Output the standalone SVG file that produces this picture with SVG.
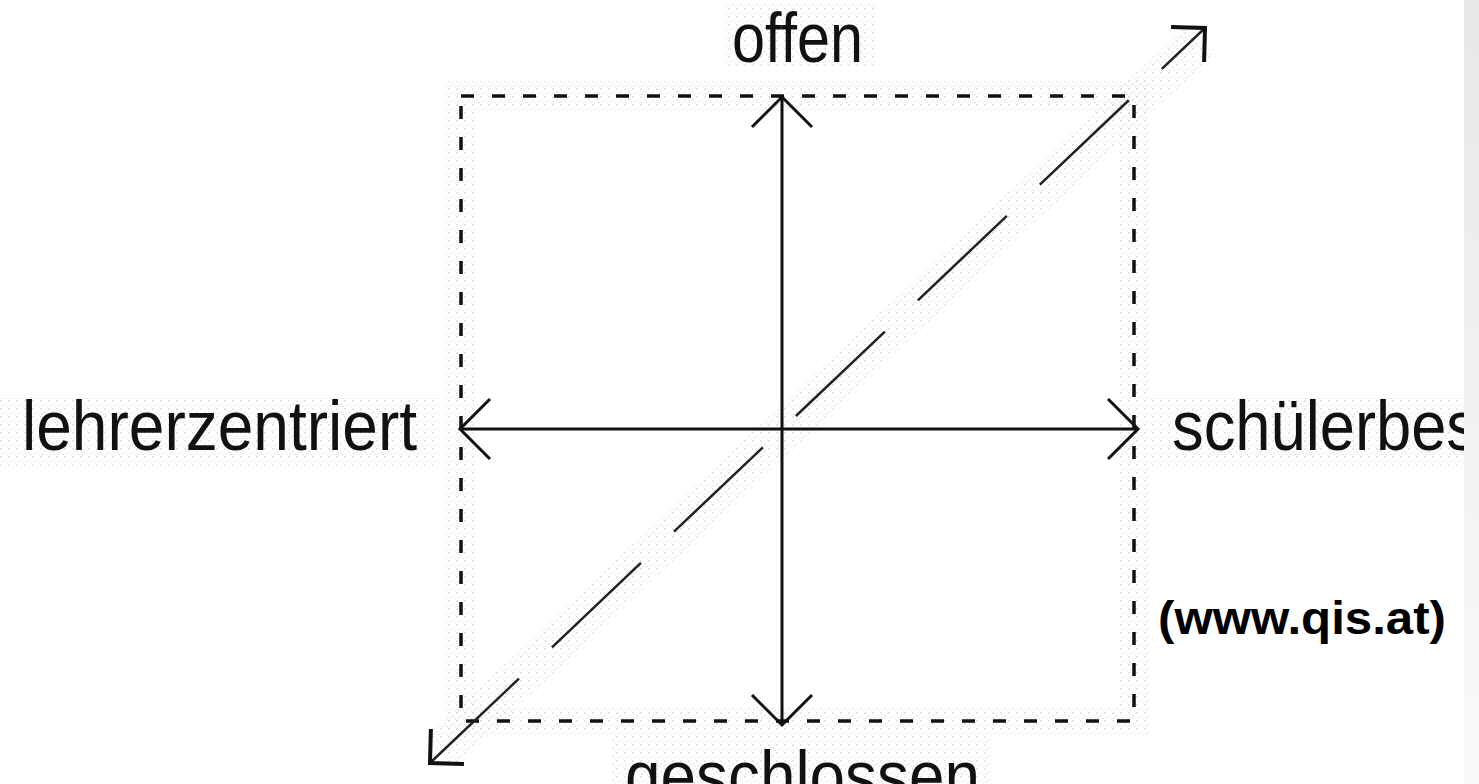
<svg xmlns="http://www.w3.org/2000/svg" width="1479" height="784" viewBox="0 0 1479 784">
  <defs>
    <pattern id="speck" width="8" height="8" patternUnits="userSpaceOnUse">
      <rect x="0" y="0" width="2" height="2" fill="#d9d9d9"/>
      <rect x="4" y="3" width="2" height="2" fill="#e2e2e2"/>
      <rect x="1" y="5" width="2" height="2" fill="#e6e6e6"/>
      <rect x="6" y="6" width="2" height="1" fill="#dcdcdc"/>
    </pattern>
    <linearGradient id="bar" x1="0" y1="0" x2="0" y2="1">
      <stop offset="0" stop-color="#e8e8e8"/>
      <stop offset="1" stop-color="#fafafa"/>
    </linearGradient>
    <marker id="vhead" markerUnits="userSpaceOnUse" viewBox="-40 -40 50 80" refX="0" refY="0" markerWidth="50" markerHeight="80" orient="auto-start-reverse" overflow="visible">
      <path d="M-30,-30 L0,0 L-30,30" fill="none" stroke="#111" stroke-width="3"/>
    </marker>
    <marker id="dhead" markerUnits="userSpaceOnUse" viewBox="-40 -40 50 80" refX="0" refY="0" markerWidth="50" markerHeight="80" orient="auto-start-reverse" overflow="visible">
      <path d="M-24,-24 L0,0 L-24,24" fill="none" stroke="#111" stroke-width="4"/>
    </marker>
  </defs>
  <style>
    .halo { fill: none; stroke: url(#speck); opacity: 0.6; }
    .haloBox { fill: url(#speck); opacity: 0.6; }
    .frame { fill: none; stroke: #111; stroke-width: 3.5; stroke-dasharray: 13 18; }
    .axis { fill: none; stroke: #111; stroke-width: 3; marker-start: url(#vhead); marker-end: url(#vhead); }
    .diag { fill: none; stroke: #222; stroke-width: 2.5; stroke-dasharray: 122.6 45.5; marker-start: url(#dhead); marker-end: url(#dhead); }
    .lbl { font-family: "Liberation Sans", Arial, sans-serif; font-size: 70px; fill: #111; }
    .src { font-family: "Liberation Sans", Arial, sans-serif; font-size: 46px; font-weight: bold; fill: #000; }
  </style>
  <rect width="1479" height="784" fill="#ffffff"/>

  <g id="halos">
    <rect class="halo" x="461" y="96" width="673" height="625" stroke-width="30"/>
    <line class="halo" x1="440" y1="752" x2="1200" y2="40" stroke-width="40"/>
    <rect class="haloBox" x="0" y="398" width="440" height="70"/>
    <rect class="haloBox" x="1150" y="398" width="314" height="70"/>
    <rect class="haloBox" x="725" y="2" width="150" height="65"/>
    <rect class="haloBox" x="610" y="735" width="380" height="49"/>
  </g>

  <g id="frame">
    <rect class="frame" x="461" y="96" width="673" height="625"/>
  </g>

  <g id="connectors">
    <line id="axis-vertical" class="axis" x1="782" y1="725" x2="782" y2="97"/>
    <line id="axis-horizontal" class="axis" x1="460" y1="429" x2="1138" y2="429"/>
    <line id="axis-diagonal" class="diag" x1="430" y1="763" x2="1205" y2="28"/>
  </g>

  <g id="node-offen">
    <text class="lbl" x="732" y="62" textLength="131" lengthAdjust="spacingAndGlyphs">offen</text>
  </g>
  <g id="node-lehrerzentriert">
    <text class="lbl" x="22" y="450" textLength="395" lengthAdjust="spacingAndGlyphs">lehrerzentriert</text>
  </g>
  <g id="node-schuelerbes">
    <text class="lbl" x="1172" y="450" textLength="306" lengthAdjust="spacingAndGlyphs">schülerbes</text>
  </g>
  <g id="node-geschlossen">
    <text class="lbl" x="625" y="800" textLength="355" lengthAdjust="spacingAndGlyphs">geschlossen</text>
  </g>
  <g id="node-source">
    <text class="src" x="1158" y="634" textLength="288" lengthAdjust="spacingAndGlyphs">(www.qis.at)</text>
  </g>

  <g id="sidebar">
    <rect x="1464" y="0" width="15" height="784" fill="url(#bar)"/>
  </g>
</svg>
